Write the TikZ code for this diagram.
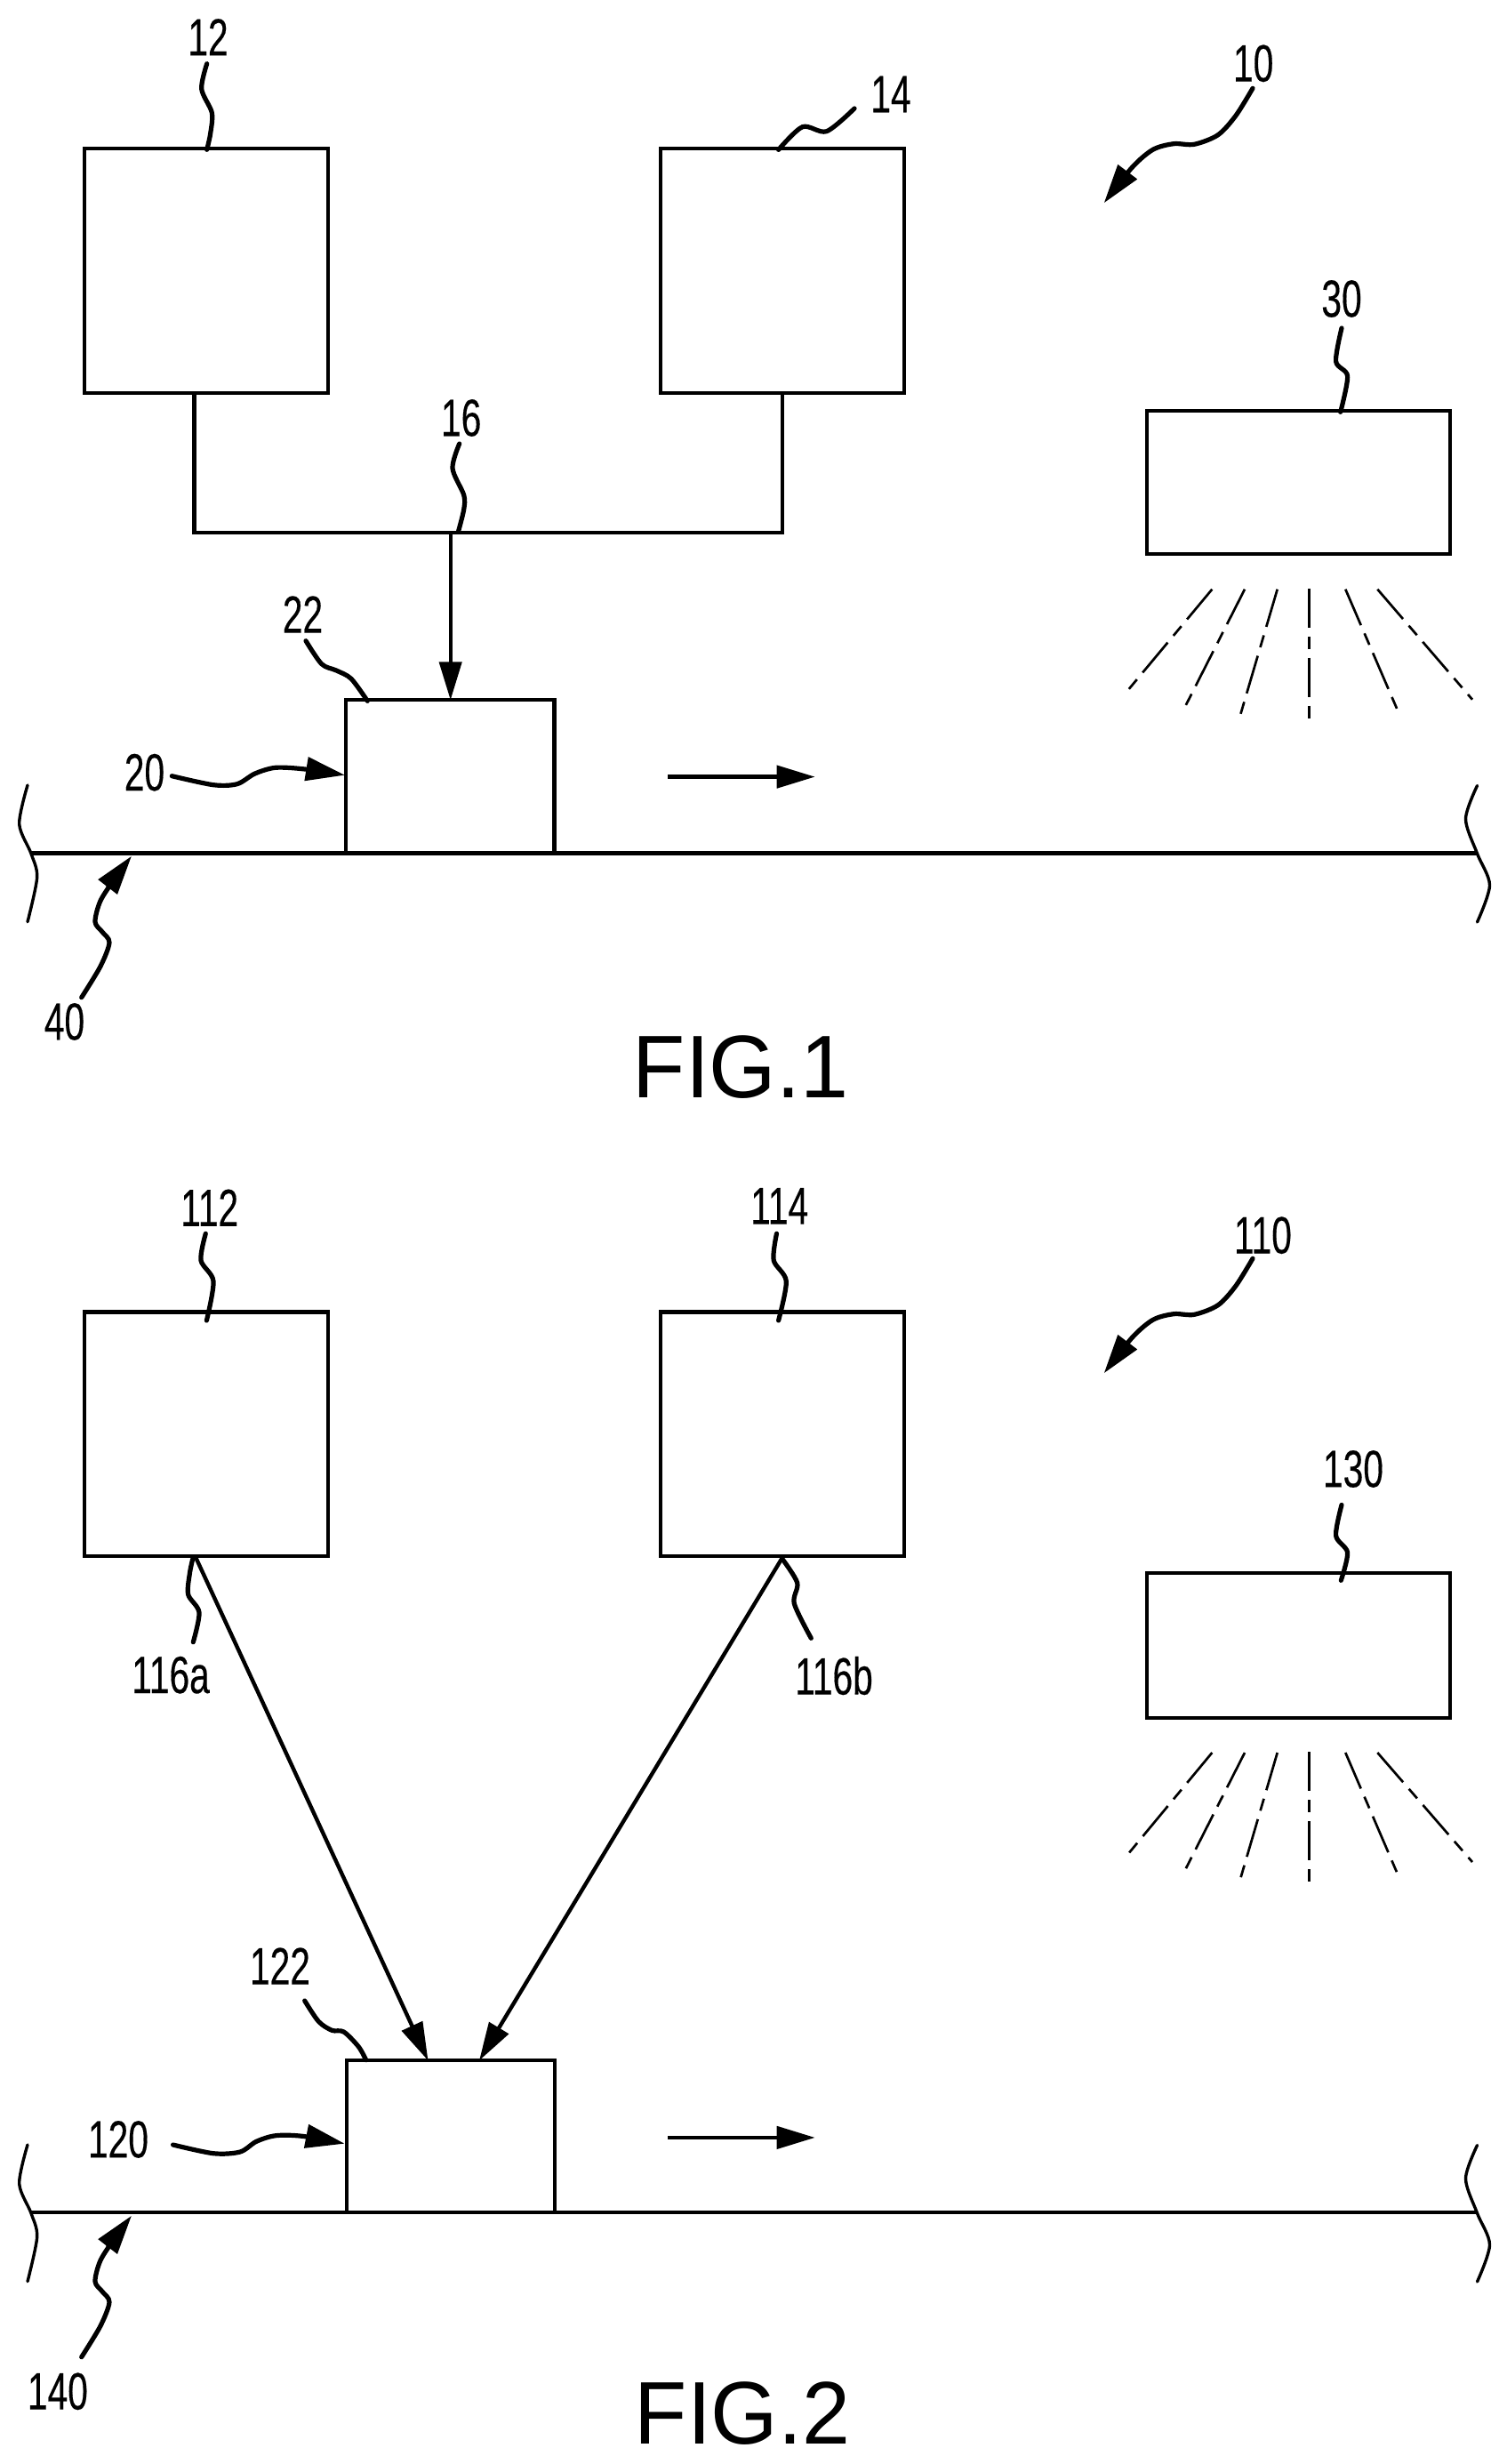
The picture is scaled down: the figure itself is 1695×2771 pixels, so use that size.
\documentclass[tikz,border=0pt]{standalone}
\usepackage{fontspec}
\usetikzlibrary{arrows.meta}
\newfontfamily\labfont[FakeStretch=0.69,FakeBold=0.25]{Liberation Sans}
\newfontfamily\figfont[FakeStretch=0.97]{Liberation Sans}
\tikzset{
  x=0.5pt,y=-0.5pt,
  wire/.style={line width=2.1pt,line cap=butt,line join=miter},
  boxn/.style={draw,line width=2.1pt,rectangle,inner sep=0pt,outer sep=0pt,anchor=north west},
  bigbox/.style={boxn,minimum width=137pt,minimum height=#1},
  lampbox/.style={boxn,minimum width=170.5pt,minimum height=#1},
  partbox/.style={boxn,minimum width=117.1pt,minimum height=#1},
  lab/.style={font=\labfont\fontsize{29.5}{29.5}\selectfont,inner sep=0pt},
  figlab/.style={font=\figfont\fontsize{50}{50}\selectfont,inner sep=0pt},
  lead/.style={line width=2.6pt,line cap=round},
  brace/.style={line width=1.7pt,line cap=round},
  leadarrow/.style={lead,-{Triangle[length=22pt,width=13pt]}},
  thinarrow/.style={line width=2.2pt,-{Triangle[length=21.5pt,width=12.5pt]}},
  ray/.style={line width=1.35pt,dash pattern=on 22pt off 5pt on 7pt off 5pt},
}
\begin{document}
\begin{tikzpicture}
\useasboundingbox[fill=white] (0,0) rectangle (1695,2771);
% ---------- FIG 1
\node[bigbox=137.5pt] (b12) at (95.3,167.3) {};
\node[bigbox=137.5pt] (b14) at (742.7,167.3) {};
\node[lampbox=80.8pt] (b30) at (1290.3,461.7) {};
\node[partbox=86.1pt] (b22) at (389.3,787.3) {};
\coordinate (busL) at (218.4,599.3);
\coordinate (busR) at (879.7,599.3);
\coordinate (junc) at (506.7,599.3);
\draw[wire] (b12.south -| busL) -- (busL) -- (busR) -- (b14.south);
\draw[thinarrow] (junc) -- (b22.north -| junc);
\coordinate (railL) at (35,959.5);
\coordinate (railR) at (1661.5,959.5);
\draw[wire] (railL) -- (railR);
\coordinate (movA) at (751,873.6);
\coordinate (movB) at (916.7,873.6);
\draw[thinarrow] (movA) -- (movB);
\draw[brace] plot[smooth] coordinates {(31,883) (21.7,926.7) (35,960) (41.7,986.7) (31,1036.7)};
\draw[brace] plot[smooth] coordinates {(1661.5,883.5) (1648.5,921) (1661.5,960) (1675.5,995.5) (1661.5,1037)};
\foreach \a/\b/\c/\d in {1363.3/662.7/1268/777,1400/662.7/1333.3/794,1436.7/662.7/1395/804.3,1472.3/661.7/1472.3/810.7,1513.3/662.7/1571.7/798.3,1549.3/662.7/1656/786.7}
  \draw[ray] (\a,\b) -- (\c,\d);
\node[lab] (l12) at (234,41.8) {12};
\node[lab] (l14) at (1002,106) {14};
\node[lab] (l10) at (1409.7,71.3) {10};
\node[lab] (l30) at (1509,336) {30};
\node[lab] (l16) at (518.7,470) {16};
\node[lab] (l22) at (340.5,691) {22};
\node[lab] (l20) at (162.5,868.7) {20};
\node[lab] (l40) at (72.5,1149) {40};
\node[figlab] (f1) at (833,1200) {FIG.1};
\draw[lead] plot[smooth] coordinates {(232.7,71.7) (226.7,100) (238.3,126.7) (236.7,150) (232.7,168.3)};
\draw[lead] plot[smooth] coordinates {(961,122) (929.7,147.7) (902.6,142.7) (875.6,168.4)};
\draw[leadarrow] plot[smooth] coordinates {(1409,99.3) (1390,130) (1370,151.7) (1343.3,162.3) (1320,161.7) (1296.7,168.3) (1273.3,188.3) (1241.7,228.3)};
\draw[lead] plot[smooth] coordinates {(1509,369) (1502.6,406.5) (1515.6,423) (1507.7,463.3)};
\draw[lead] plot[smooth] coordinates {(516.7,499) (509,526.7) (521.7,556.7) (521.7,573) (515.7,597)};
\draw[lead] plot[smooth] coordinates {(344,720.7) (361.7,746.7) (378.3,754) (395,763.3) (413.3,788.3)};
\draw[leadarrow] plot[smooth] coordinates {(193.3,872.7) (240,882.7) (266.7,881.7) (286.7,870) (310,863.3) (343,865) (388,871.7)};
\draw[leadarrow] plot[smooth] coordinates {(91.7,1121.7) (113,1086.7) (123,1060) (115,1048) (107,1036.7) (113,1013) (130,986.7) (148,962.7)};
% ---------- FIG 2
\node[bigbox=137.25pt] (b112) at (95.3,1475.5) {};
\node[bigbox=137.25pt] (b114) at (742.7,1475.5) {};
\node[lampbox=81.5pt] (b130) at (1290.3,1769.3) {};
\node[partbox=85.5pt] (b122) at (389.7,2317.3) {};
\coordinate (railLb) at (35,2488.3);
\coordinate (railRb) at (1661.5,2488.3);
\draw[wire] (railLb) -- (railRb);
\coordinate (movC) at (751,2403.9);
\coordinate (movD) at (916.7,2403.9);
\draw[thinarrow] (movC) -- (movD);
\coordinate (aS) at (219.5,1750);
\coordinate (aE) at (481.5,2317.3);
\coordinate (bS) at (881,1750);
\coordinate (bE) at (539,2317.3);
\draw[thinarrow] (aS) -- (aE);
\draw[thinarrow] (bS) -- (bE);
\draw[brace] plot[smooth] coordinates {(31,2412) (21.7,2455.7) (35,2489) (41.7,2515.7) (31,2565.7)};
\draw[brace] plot[smooth] coordinates {(1661.5,2412.5) (1648.5,2450) (1661.5,2489) (1675.5,2524.5) (1661.5,2566)};
\foreach \a/\b/\c/\d in {1363.3/1971/1268/2086,1400/1971/1333.3/2102.3,1436.7/1971/1395/2113.3,1472.3/1970/1472.3/2119.3,1513.3/1971/1571.7/2107,1549.3/1971/1656/2094}
  \draw[ray] (\a,\b) -- (\c,\d);
\node[lab] (l112) at (235.7,1358.2) {112};
\node[lab] (l114) at (876.7,1356.3) {114};
\node[lab] (l110) at (1420.4,1389.2) {110};
\node[lab] (l130) at (1522,1652) {130};
\node[lab] (l116a) at (192,1883.7) {116a};
\node[lab] (l116b) at (938,1884.5) {116b};
\node[lab] (l122) at (315,2211) {122};
\node[lab] (l120) at (133,2406) {120};
\node[lab] (l140) at (64.9,2689.3) {140};
\node[figlab] (f2) at (835,2714) {FIG.2};
\draw[lead] plot[smooth] coordinates {(231.3,1387.3) (226,1417.3) (240,1440.8) (232.4,1485)};
\draw[lead] plot[smooth] coordinates {(873.5,1387.3) (870.2,1417.3) (884.3,1440.8) (875.6,1485)};
\draw[leadarrow] plot[smooth] coordinates {(1409,1415.3) (1390,1446) (1370,1467.7) (1343.3,1478.3) (1320,1477.7) (1296.7,1484.3) (1273.3,1504.3) (1241.7,1544.3)};
\draw[lead] plot[smooth] coordinates {(1509,1692.4) (1502.6,1727) (1515.6,1746) (1508.3,1777.3)};
\draw[lead] plot[smooth] coordinates {(216.7,1753.3) (213.3,1770) (211.7,1793.3) (224,1813.3) (217.3,1846.7)};
\draw[lead] plot[smooth] coordinates {(880,1753.3) (896.7,1780) (893.3,1803.3) (912.3,1842.3)};
\draw[lead] plot[smooth] coordinates {(342.7,2250) (358.3,2273.3) (373.3,2283.3) (386.7,2285) (403.3,2301.7) (411.7,2316.7)};
\draw[leadarrow] plot[smooth] coordinates {(194.6,2412) (240,2421.7) (270,2420) (288.3,2408.3) (310,2401.7) (340,2402.3) (387.7,2410.7)};
\draw[leadarrow] plot[smooth] coordinates {(91.7,2650.7) (113,2615.7) (123,2589) (115,2577) (107,2565.7) (113,2542) (130,2515.7) (148,2491.7)};
\end{tikzpicture}
\end{document}
